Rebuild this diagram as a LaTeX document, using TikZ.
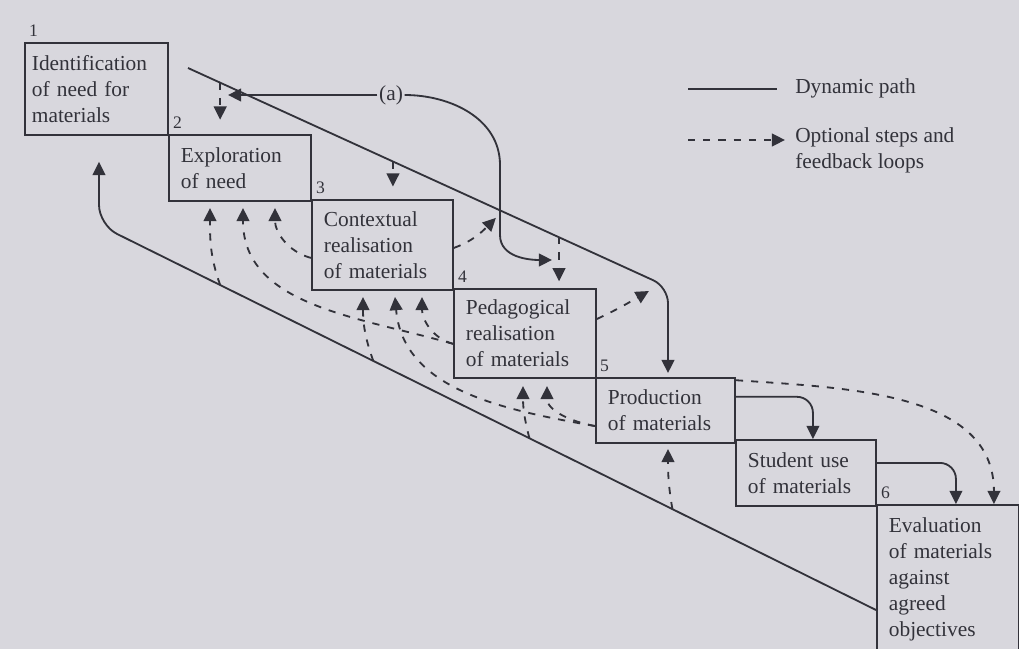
\documentclass[tikz,border=0pt]{standalone}
\usepackage{fontspec}
\setmainfont{Liberation Serif}
\usetikzlibrary{arrows.meta}
\definecolor{paper}{RGB}{216,215,221}
\definecolor{ink}{RGB}{50,50,58}
\tikzset{
  stepbox/.style={draw=ink, line width=1.3pt, anchor=north west, align=left,
    inner xsep=0.3cm, inner ysep=0pt, text=ink, font=\fontsize{15.2}{18.5}\selectfont},
  stepno/.style={anchor=south west, inner xsep=3.5pt, inner ysep=3.5pt, text=ink,
    font=\fontsize{12.5}{14}\selectfont},
  keytext/.style={inner sep=0pt, align=left, text=ink, font=\fontsize{15.2}{18.5}\selectfont},
  solidline/.style={draw=ink, line width=1.3pt},
  dashline/.style={solidline, dash pattern=on 0.18cm off 0.2cm},
  arr/.style={-{Triangle[length=0.33cm,width=0.32cm]}}
}
\begin{document}
\begin{tikzpicture}[x=0.025cm, y=-0.025cm]
  \fill[paper] (0,0) rectangle (1019,649);
  \useasboundingbox (0,0) rectangle (1019,649);
  \clip (0,0) rectangle (1019,649);

  \node[stepbox, inner xsep=0.175cm, text width=3.225cm, minimum height=2.3cm] (b1) at (24,42) {Identification\\of need for\\materials};
  \node[stepbox, text width=2.95cm, minimum height=1.65cm] (b2) at (168,134) {Exploration\\of need};
  \node[stepbox, text width=2.925cm, minimum height=2.25cm] (b3) at (311,199) {Contextual\\realisation\\of materials};
  \node[stepbox, text width=2.95cm, minimum height=2.225cm] (b4) at (453,288) {Pedagogical\\realisation\\of materials};
  \node[stepbox, text width=2.875cm, minimum height=1.625cm] (b5) at (595,377) {Production\\of materials};
  \node[stepbox, text width=2.9cm, minimum height=1.65cm] (b6) at (735,439) {Student use\\of materials};
  \node[stepbox, text width=2.95cm, minimum height=3.7cm] (b7) at (876,504) {Evaluation\\of materials\\against\\agreed\\objectives};

  \node[stepno] (n1) at (b1.north west) {1};
  \node[stepno] (n2) at (b2.north west) {2};
  \node[stepno] (n3) at (b3.north west) {3};
  \node[stepno] (n4) at (b4.north west) {4};
  \node[stepno] (n5) at (b5.north west) {5};
  \node[stepno] (n6) at (b7.north west) {6};

  \coordinate (dyn0) at (188,68);
  \coordinate (dyn1) at (668,287);
  \draw[solidline, arr, rounded corners=0.4cm, shorten >=0.1cm] (dyn0) -- (dyn1) -- (dyn1 |- b5.north);
  \path (dyn0) -- (dyn1) coordinate[pos=0.067] (o2) coordinate[pos=0.427] (o3) coordinate[pos=0.773] (o4);

  \node[keytext, inner sep=1pt] (alab) at (391,95) {(a)};
  \coordinate (atip) at (228,95);
  \coordinate (ahook) at (552,260);
  \draw[solidline, arr] (alab.west) -- (atip);
  \draw[solidline, arr] (alab.east) to[out=0,in=90] (500,165) -- (500,235) to[out=-90,in=180] (ahook);

  \coordinate (lowend) at (876,610);
  \coordinate (lowturn) at (99,225);
  \draw[solidline, arr, rounded corners=0.5cm, shorten >=0.65cm] (lowend) -- (lowturn) -- (lowturn |- b1.south);
  \path (lowend) -- (lowturn) coordinate[pos=0.844] (l2) coordinate[pos=0.647] (l3) coordinate[pos=0.446] (l4) coordinate[pos=0.262] (l5);

  \draw[solidline, arr, rounded corners=0.4cm] ([yshift=0.34cm]b5.east) -| ([xshift=0.175cm]b6.north);
  \draw[solidline, arr, rounded corners=0.4cm] ([yshift=0.25cm]b6.east) -| ([xshift=0.2cm]b7.north);

  \coordinate (u2a) at (210,208);
  \coordinate (u2b) at (243,208);
  \coordinate (u2c) at (275,208);
  \coordinate (u3a) at (363,297);
  \coordinate (u3b) at (395,297);
  \coordinate (u3c) at (422,297);
  \coordinate (u4a) at (523,386);
  \coordinate (u4b) at (547,386);
  \coordinate (u5a) at (668,449);

  \begin{scope}[dashline, arr]
    \draw (o2) -- ++(0,37);
    \draw (o3) -- ++(0,25);
    \draw (o4) -- ++(0,44);
    \draw ([yshift=-0.075cm]b3.east) to[out=20,in=-135] ++(42,-30);
    \draw ([yshift=0.36cm]b4.east) to[out=25,in=-150] ++(52,-28);
    \draw ([yshift=-0.08cm]b5.north east) to[out=-4,in=90] ([xshift=1.15cm]b7.north);
    \draw (l2) to[out=110,in=-90] (u2a);
    \draw ([yshift=-0.26cm]b4.west) to[out=164,in=-90] (u2b);
    \draw ([yshift=-0.325cm]b3.west) to[out=165,in=-90] (u2c);
    \draw (l3) to[out=110,in=-90] (u3a);
    \draw ([yshift=-0.39cm]b5.west) to[out=170,in=-85] (u3b);
    \draw ([yshift=-0.26cm]b4.west) to[out=165,in=-90] (u3c);
    \draw (l4) to[out=105,in=-90] (u4a);
    \draw ([yshift=-0.39cm]b5.west) to[out=170,in=-90] (u4b);
    \draw (l5) to[out=100,in=-90] (u5a);
  \end{scope}

  \node[keytext, anchor=west] (keydyn) at (795,88) {Dynamic path};
  \node[keytext, anchor=north west] (keyopt) at (795,127) {Optional steps and\\feedback loops};
  \coordinate (keyA) at (688,89);
  \coordinate (keyB) at (688,140);
  \draw[solidline, shorten >=0.45cm] (keyA) -- (keyA -| keydyn.west);
  \draw[dashline, arr, shorten >=0.25cm] (keyB) -- (keyB -| keyopt.west);
\end{tikzpicture}
\end{document}
